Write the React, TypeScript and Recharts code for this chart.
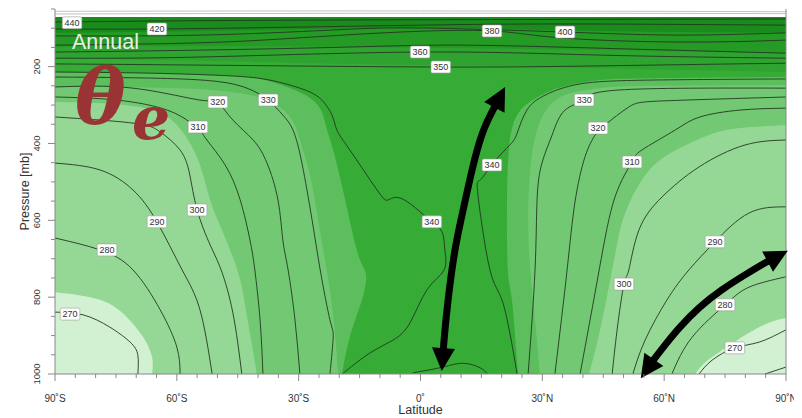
import { ComposedChart, Area, Line, Scatter, XAxis, YAxis, CartesianGrid, Label } from "recharts"

// all shapes are [latitude, pressure(mb)] pairs

// side bands: each curve runs from the plot edge down to 1000 mb and is filled towards the bottom
const fillLeftMid = [[-90, 214], [-66.6, 217], [-46.9, 224], [-38.3, 235], [-30.9, 261], [-26, 292], [-24, 326], [-23, 365], [-21.5, 417], [-19.1, 521], [-16.9, 625], [-14.9, 703], [-13.4, 742], [-14.4, 807], [-17.4, 904], [-19.3, 1000]]
const fillLeftMid2 = [[-90, 253], [-59.2, 256], [-43.2, 271], [-35.8, 297], [-31.6, 339], [-29.7, 391], [-27.2, 482], [-25.2, 599], [-23.5, 703], [-22.3, 781], [-21.1, 886], [-20.3, 1000]]
const fillLeftLight = [[-90, 292], [-78.9, 295], [-69.1, 305], [-62.9, 326], [-58, 378], [-54.3, 456], [-51.8, 547], [-48.9, 625], [-46.4, 690], [-44.4, 755], [-43, 833], [-41.5, 925], [-40.3, 1000]]
const fillLeftLightest = [[-90, 787], [-78.9, 807], [-72.3, 852], [-68.3, 904], [-66.1, 956], [-66.1, 1000]]

const fillRightMid = [[90, 227], [56.5, 230], [44.2, 235], [36.8, 248], [30.7, 269], [26.2, 297], [23.8, 326], [22, 391], [21.3, 547], [21.5, 729], [22.5, 807], [24, 1000]]
const fillRightMid2 = [[90, 248], [56.5, 250], [44.2, 256], [36.8, 269], [31.9, 300], [28.7, 365], [27, 469], [26.5, 599], [27, 729], [28.2, 860], [29.4, 1000]]
const fillRightLight = [[90, 352], [78.7, 360], [71, 378], [63.9, 412], [59, 443], [54.5, 495], [50.4, 581], [48.6, 651], [47.2, 729], [44.2, 886], [41.5, 1000]]
const fillRightLightest = [[90, 854], [86.1, 865], [79.9, 899], [71.8, 956], [68.8, 984], [67.6, 1000]]

// upper bands, filled from the curve up to the top
const topBand3 = [[-90, 178], [-54.3, 185], [0, 196], [44.2, 204], [90, 214]]
const topBand2 = [[-90, 149], [-54.3, 146], [0, 151], [44.2, 157], [90, 165]]
const topBand1 = [[-90, 112], [-54.3, 107], [0, 99], [44.2, 107], [90, 112]]
const topClear = [[-90, 71], [90, 71]]

// contour lines
const c440 = [[-90, 84], [-29.7, 79], [90, 76]]
const c420 = [[-90, 102], [-64.9, 102], [-29.7, 97], [0, 92], [34.4, 89], [90, 92]]
const c400 = [[-90, 120], [-54.3, 118], [-22.3, 105], [0, 99.5], [35.6, 110], [63.9, 118], [90, 112]]
const c380 = [[-90, 144], [-54.3, 138], [-29.7, 125], [-5, 110], [17.6, 107], [34.4, 125], [63.9, 136], [90, 131]]
const c370 = [[-90, 162], [-54.3, 157], [-17.4, 149], [9.7, 144], [44.2, 152], [90, 165]]
const c360 = [[-90, 178], [-54.3, 175], [0, 162], [44.2, 170], [90, 178]]
const c350 = [[-90, 193], [-54.3, 196], [5, 201], [44.2, 198], [90, 191]]
const c350Low = [[-1.9, 997], [5.5, 982], [10.5, 972], [14.7, 984], [16.4, 1000]]
const c340L = [[-90, 214], [-66.6, 217], [-46.9, 224], [-37.1, 235], [-29.7, 256], [-24.8, 282], [-21.8, 326], [-20.6, 365], [-17.4, 417], [-10.7, 521], [-8, 547], [-5, 542], [-0.1, 578], [2.8, 604], [5.3, 630], [6, 677], [5.8, 729], [1.6, 781], [-2.6, 867], [-6.8, 912], [-12.4, 945], [-18.1, 990], [-19.3, 1000]]
const c340R = [[90, 232], [56.5, 235], [39.3, 245], [30.7, 274], [26.2, 313], [23.8, 373], [22, 404], [17.9, 451], [14.7, 495], [14.2, 539], [17.1, 729], [20.3, 815], [23.8, 1000]]
const c330L = [[-90, 227], [-59.2, 232], [-44.4, 250], [-37.6, 287], [-33.9, 326], [-31.4, 365], [-29.2, 451], [-26.7, 599], [-24.7, 729], [-22.3, 859], [-21.5, 904], [-22.3, 1000]]
const c320L = [[-90, 253], [-70.8, 256], [-54.3, 287], [-49.9, 292], [-46.2, 339], [-41.2, 391], [-37.8, 451], [-35.1, 547], [-33.9, 651], [-32.6, 729], [-30.9, 860], [-29.7, 1000]]
const c310L = [[-90, 279], [-74.7, 287], [-62.4, 313], [-56.8, 344], [-54.8, 357], [-52.6, 391], [-48.1, 456], [-44.4, 547], [-42, 651], [-40.8, 729], [-39.5, 860], [-38.8, 1000]]
const c300L = [[-90, 331], [-70.8, 347], [-64.1, 370], [-59.2, 417], [-56.8, 482], [-55, 573], [-51.8, 664], [-49.1, 729], [-46.2, 841], [-44, 1000]]
const c290L = [[-90, 451], [-78.9, 469], [-70.8, 521], [-64.9, 604], [-58.7, 729], [-54.3, 833], [-51.3, 1000]]
const c280L = [[-90, 646], [-78.9, 677], [-70.8, 729], [-64.1, 833], [-60, 930], [-59.2, 1000]]
const c270L = [[-90, 839], [-83.1, 846], [-76.5, 878], [-71.5, 917], [-69.6, 951], [-69.6, 1000]]
const c330R = [[90, 256], [48.6, 261], [40.3, 287], [35.6, 313], [32.4, 378], [29.9, 451], [28.7, 547], [28.2, 729], [26.5, 1000]]
const c320R = [[90, 279], [60.2, 289], [51.3, 305], [45.4, 352], [43, 378], [40.5, 435], [38, 555], [36.1, 729], [33.1, 1000]]
const c310R = [[90, 308], [78.7, 313], [68.8, 331], [62.7, 365], [54.5, 417], [52.1, 448], [47.9, 539], [44, 729], [39.3, 1000]]
const c300R = [[90, 391], [79.9, 404], [68.6, 461], [59.5, 539], [53.8, 625], [51.3, 729], [50.1, 766], [48.4, 886], [47.2, 1000]]
const c290R = [[90, 565], [80.9, 581], [72.5, 656], [66.1, 729], [60.7, 807], [55.3, 912], [52.3, 1000]]
const c280R = [[90, 747], [80.9, 774], [75, 820], [66.9, 904], [61.9, 1000]]
const c270R = [[90, 885], [83.4, 917], [77.4, 932], [71.8, 964], [68.6, 1000]]
const c260R = [[90, 982], [84.8, 1000]]
const upperFaint1 = [[-90, 63], [0, 61], [90, 62]]
const upperFaint2 = [[-90, 56], [0, 55], [90, 57]]

// contour labels: [lat, p, value]
const contourLabels: [number, number, string][] = [
  [-85.8, 86, "440"], [-64.9, 102, "420"], [17.6, 107, "380"], [35.6, 110, "400"],
  [-0.1, 162, "360"], [5, 201, "350"], [-49.9, 292, "320"], [-37.5, 287, "330"],
  [-54.8, 357, "310"], [-55, 573, "300"], [-64.9, 604, "290"], [-77.2, 677, "280"],
  [-86.3, 844, "270"], [2.8, 604, "340"], [17.6, 456, "340"], [40.3, 287, "330"],
  [43.7, 360, "320"], [52.1, 448, "310"], [50.1, 766, "300"], [72.5, 656, "290"],
  [75, 820, "280"], [77.4, 932, "270"],
]

// annotation arrows
const arrowTropics = [[5.4, 969], [5.8, 912], [6.8, 807], [8.5, 677], [10.5, 573], [12.7, 469], [15.1, 378], [17.6, 318], [19.8, 274]]
const arrowPolar = [[55.5, 992], [57, 969], [60.2, 925], [63.9, 878], [68.8, 826], [74.2, 781], [79.9, 742], [84.8, 711], [88.5, 690]]

const latTicks = [-90, -85, -80, -75, -70, -65, -60, -55, -50, -45, -40, -35, -30, -25, -20, -15, -10, -5, 0, 5, 10, 15, 20, 25, 30, 35, 40, 45, 50, 55, 60, 65, 70, 75, 80, 85, 90]
const latLabels: Record<number, string> = { "-90": "90˚S", "-60": "60˚S", "-30": "30˚S", "0": "0˚", "30": "30˚N", "60": "60˚N", "90": "90˚N" }
const pTicks = [50, 100, 150, 200, 250, 300, 350, 400, 450, 500, 550, 600, 650, 700, 750, 800, 850, 900, 950, 1000]

const W = 794
const H = 410
const PLOT_W = 731
const PLOT_H = 365
const PX_DEG = PLOT_W / 180
const PX_MB = PLOT_H / 950
const FONT = "'Liberation Sans', Arial, sans-serif"

const C = {
  core: "#36AB36",
  mid: "#5CBE5C",
  mid2: "#73C873",
  light: "#95D895",
  lightest: "#D2F0D2",
  top3: "#2FA32F",
  top2: "#259A25",
  top1: "#198C1C",
  line: "#213821",
}

const pts = (a: number[][]) => a.map(([lat, p]) => ({ lat, p }))

const sideFills = [
  { data: fillLeftMid, color: C.mid },
  { data: fillLeftMid2, color: C.mid2 },
  { data: fillLeftLight, color: C.light },
  { data: fillLeftLightest, color: C.lightest },
  { data: fillRightMid, color: C.mid },
  { data: fillRightMid2, color: C.mid2 },
  { data: fillRightLight, color: C.light },
  { data: fillRightLightest, color: C.lightest },
]

const topFills = [
  { data: topBand3, color: C.top3 },
  { data: topBand2, color: C.top2 },
  { data: topBand1, color: C.top1 },
  { data: topClear, color: "#ffffff" },
]

const contours = [c440, c420, c400, c380, c370, c360, c350, c350Low, c340L, c340R, c330L, c320L, c310L, c300L, c290L, c280L, c270L, c330R, c320R, c310R, c300R, c290R, c280R, c270R, c260R]

function LatTick(props: any) {
  const { x, y, payload } = props
  const text = latLabels[payload.value]
  return (
    <g>
      <line x1={x} y1={y} x2={x} y2={y + (text ? 7 : 4)} stroke="#888" strokeWidth={1} />
      {text && (
        <text x={x} y={y + 28} textAnchor="middle" fontSize={10} fill="#333" fontFamily={FONT}>
          {text}
        </text>
      )}
    </g>
  )
}

function PTick(props: any) {
  const { x, y, payload, side } = props
  const major = payload.value % 200 === 0
  const dir = side === "left" ? -1 : 1
  const tx = x - 15
  return (
    <g>
      <line x1={x} y1={y} x2={x + dir * (major ? 7 : 4)} y2={y} stroke="#888" strokeWidth={1} />
      {side === "left" && major && (
        <text x={tx} y={y} transform={`rotate(-90 ${tx} ${y})`} textAnchor="middle" fontSize={9.5} fill="#333" fontFamily={FONT}>
          {payload.value}
        </text>
      )}
    </g>
  )
}

function ContourTag(props: any) {
  const { cx, cy, payload } = props
  const w = payload.text.length * 5.2 + 4
  return (
    <g>
      <rect x={cx - w / 2} y={cy - 6} width={w} height={12} rx={1.5} fill="#fff" stroke="#9a9a9a" strokeWidth={0.6} />
      <text x={cx} y={cy + 3.3} textAnchor="middle" fontSize={9} fill="#333" fontFamily={FONT}>
        {payload.text}
      </text>
    </g>
  )
}

// arrow heads drawn at both ends of an arrow line
const headDots = (arr: number[][]) => (props: any) => {
  const { cx, cy, index } = props
  const last = arr.length - 1
  if (index !== 0 && index !== last) return <g key={`n-${index}`} />
  const a = index === 0 ? arr[0] : arr[last]
  const b = index === 0 ? arr[1] : arr[last - 1]
  let dx = (a[0] - b[0]) * PX_DEG
  let dy = (a[1] - b[1]) * PX_MB
  const len = Math.hypot(dx, dy) || 1
  dx /= len
  dy /= len
  const tipX = cx + dx * 9
  const tipY = cy + dy * 9
  const bx = tipX - dx * 23
  const by = tipY - dy * 23
  const nx = -dy * 11.5
  const ny = dx * 11.5
  return <polygon key={`h-${index}`} points={`${tipX},${tipY} ${bx + nx},${by + ny} ${bx - nx},${by - ny}`} fill="#000" />
}

function PressureLabel(props: any) {
  const { x, y, height } = props.viewBox
  const cx = x + 21
  const cy = y + height / 2
  return (
    <text x={cx} y={cy} transform={`rotate(-90 ${cx} ${cy})`} textAnchor="middle" fontSize={12.5} fill="#333" fontFamily={FONT}>
      Pressure [mb]
    </text>
  )
}

function LatitudeLabel(props: any) {
  const { x, y, width } = props.viewBox
  return (
    <text x={x + width / 2} y={y + 40} textAnchor="middle" fontSize={12.5} fill="#333" fontFamily={FONT}>
      Latitude
    </text>
  )
}

export default function App() {
  return (
    <div style={{ position: "relative", width: W, height: H }}>
      <ComposedChart width={W} height={H} margin={{ top: 1, right: 8, bottom: 0, left: 0 }}>
        <CartesianGrid fill={C.core} fillOpacity={1} stroke="none" horizontal={false} vertical={false} />
        <XAxis
          type="number"
          dataKey="lat"
          domain={[-90, 90]}
          ticks={latTicks}
          interval={0}
          tick={<LatTick />}
          tickLine={false}
          tickSize={0}
          tickMargin={0}
          height={44}
          axisLine={{ stroke: "#888" }}
        >
          <Label content={<LatitudeLabel />} />
        </XAxis>
        <YAxis
          type="number"
          dataKey="p"
          domain={[50, 1000]}
          reversed
          ticks={pTicks}
          interval={0}
          width={47}
          tick={<PTick side="left" />}
          tickLine={false}
          tickSize={0}
          tickMargin={0}
          axisLine={{ stroke: "#888" }}
        >
          <Label content={<PressureLabel />} />
        </YAxis>
        <YAxis
          yAxisId="r"
          orientation="right"
          type="number"
          domain={[50, 1000]}
          reversed
          ticks={pTicks}
          interval={0}
          width={8}
          tick={<PTick side="right" />}
          tickLine={false}
          tickSize={0}
          tickMargin={0}
          axisLine={{ stroke: "#888" }}
        />
        {sideFills.map((f, i) => (
          <Area
            key={`s${i}`}
            data={pts(f.data)}
            dataKey="p"
            baseValue={1000}
            type="natural"
            fill={f.color}
            fillOpacity={1}
            stroke="none"
            isAnimationActive={false}
          />
        ))}
        {topFills.map((f, i) => (
          <Area
            key={`t${i}`}
            data={pts(f.data)}
            dataKey="p"
            baseValue={50}
            type="monotone"
            fill={f.color}
            fillOpacity={1}
            stroke="none"
            isAnimationActive={false}
          />
        ))}
        {[upperFaint1, upperFaint2].map((c, i) => (
          <Line key={`f${i}`} data={pts(c)} dataKey="p" type="natural" stroke="#bbbbbb" strokeWidth={0.9} dot={false} isAnimationActive={false} />
        ))}
        {contours.map((c, i) => (
          <Line key={`c${i}`} data={pts(c)} dataKey="p" type="natural" stroke={C.line} strokeWidth={0.9} dot={false} isAnimationActive={false} />
        ))}
        <Scatter
          data={contourLabels.map(([lat, p, text]) => ({ lat, p, text }))}
          shape={(props: any) => <ContourTag {...props} />}
          isAnimationActive={false}
        />
        {[arrowTropics, arrowPolar].map((a, i) => (
          <Line
            key={`a${i}`}
            data={pts(a)}
            dataKey="p"
            type="natural"
            stroke="#000"
            strokeWidth={7}
            dot={headDots(a)}
            activeDot={false}
            isAnimationActive={false}
          />
        ))}
      </ComposedChart>

      {/* title annotations */}
      <svg width={W} height={H} style={{ position: "absolute", left: 0, top: 0, pointerEvents: "none" }}>
        <text x={64} y={41} fontSize={21.5} fill="#E4F2E4" fontFamily={FONT}>
          Annual
        </text>
        <text x={67} y={116} fontSize={76} fontStyle="italic" fontWeight="bold" fill="#9A3434" fontFamily="'DejaVu Serif', serif">
          θ
        </text>
        <text x={124} y={131} fontSize={60} fontStyle="italic" fontWeight="bold" fill="#9A3434" fontFamily="'DejaVu Serif', serif">
          e
        </text>
      </svg>
    </div>
  )
}
